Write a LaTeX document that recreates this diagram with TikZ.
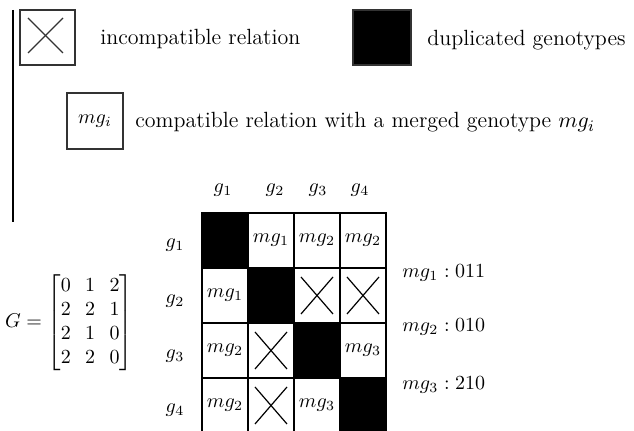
\documentclass[tikz,border=0pt]{standalone}
\usepackage{amsmath}
\begin{document}
\begin{tikzpicture}[x=0.5pt,y=-0.5pt,
  cell/.style={draw=black,line width=0.6pt,minimum width=23pt,minimum height=27.5pt,inner sep=0pt,outer sep=0pt,font=\fontsize{10}{12}\selectfont},
  dup/.style={cell,fill=black},
  incomp/.style={cell,path picture={
      \draw[line width=0.6pt] ([xshift=3.5pt,yshift=-4.5pt]path picture bounding box.north west) -- ([xshift=-3.5pt,yshift=4.5pt]path picture bounding box.south east);
      \draw[line width=0.6pt] ([xshift=-3.5pt,yshift=-4.5pt]path picture bounding box.north east) -- ([xshift=3.5pt,yshift=4.5pt]path picture bounding box.south west);}},
  lbl/.style={font=\fontsize{10}{12}\selectfont,inner sep=0pt},
  legtext/.style={font=\fontsize{11}{13}\selectfont,inner sep=0pt,anchor=base west},
  legbox/.style={draw=black!80,line width=0.6pt,inner sep=0pt,outer sep=0pt}]
\useasboundingbox (0,0) rectangle (634,431);
\clip (0,0) rectangle (634,431);

% left rule
\coordinate (ruletop) at (13,10);
\coordinate (rulebot) at (13,222);
\draw[line width=0.6pt] (ruletop) -- (rulebot);

% legend
\node[legbox,minimum width=27.5pt,minimum height=27.5pt,
  path picture={
    \draw[line width=0.6pt] ([xshift=4pt,yshift=-4pt]path picture bounding box.north west) -- ([xshift=-6pt,yshift=6pt]path picture bounding box.south east);
    \draw[line width=0.6pt] ([xshift=-6pt,yshift=-4pt]path picture bounding box.north east) -- ([xshift=4pt,yshift=6pt]path picture bounding box.south west);}]
  (legx) at (47.5,37.5) {};
\node[legtext] (legxt) at (100,45) {incompatible relation};
\node[legbox,fill=black,minimum width=29pt,minimum height=27.5pt] (legd) at (382,37.5) {};
\node[legtext] (legdt) at (427,46) {duplicated genotypes};
\node[legbox,minimum width=28pt,minimum height=28pt,font=\fontsize{10}{12}\selectfont] (legm) at (95,121) {$mg_i$};
\node[legtext] (legmt) at (135,128) {compatible relation with a merged genotype $mg_i$};

% genotype matrix
\node[lbl] (G) at (69,323) {$\arraycolsep=3.6pt G=\begin{bmatrix}0&1&2\\2&2&1\\2&1&0\\2&2&0\end{bmatrix}$};

% column headers
\node[lbl] (h1) at (223,190) {$g_1$};
\node[lbl] (h2) at (275,190) {$g_2$};
\node[lbl] (h3) at (318,190) {$g_3$};
\node[lbl] (h4) at (360,190) {$g_4$};
% row headers
\node[lbl] (r1) at (175,245) {$g_1$};
\node[lbl] (r2) at (175,301) {$g_2$};
\node[lbl] (r3) at (175,356) {$g_3$};
\node[lbl] (r4) at (175,410) {$g_4$};

% relation grid
\node[dup]    (c11) at (225,240.5) {};
\node[cell]   (c12) at (271,240.5) {$mg_1$};
\node[cell]   (c13) at (317,240.5) {$mg_2$};
\node[cell]   (c14) at (363,240.5) {$mg_2$};
\node[cell]   (c21) at (225,295.5) {$mg_1$};
\node[dup]    (c22) at (271,295.5) {};
\node[incomp] (c23) at (317,295.5) {};
\node[incomp] (c24) at (363,295.5) {};
\node[cell]   (c31) at (225,350.5) {$mg_2$};
\node[incomp] (c32) at (271,350.5) {};
\node[dup]    (c33) at (317,350.5) {};
\node[cell]   (c34) at (363,350.5) {$mg_3$};
\node[cell]   (c41) at (225,405.5) {$mg_2$};
\node[incomp] (c42) at (271,405.5) {};
\node[cell]   (c43) at (317,405.5) {$mg_3$};
\node[dup]    (c44) at (363,405.5) {};

% merged genotypes
\node[lbl,anchor=base west] (m1) at (402,278) {$mg_1: 011$};
\node[lbl,anchor=base west] (m2) at (402,332) {$mg_2: 010$};
\node[lbl,anchor=base west] (m3) at (402,390) {$mg_3: 210$};
\end{tikzpicture}
\end{document}
